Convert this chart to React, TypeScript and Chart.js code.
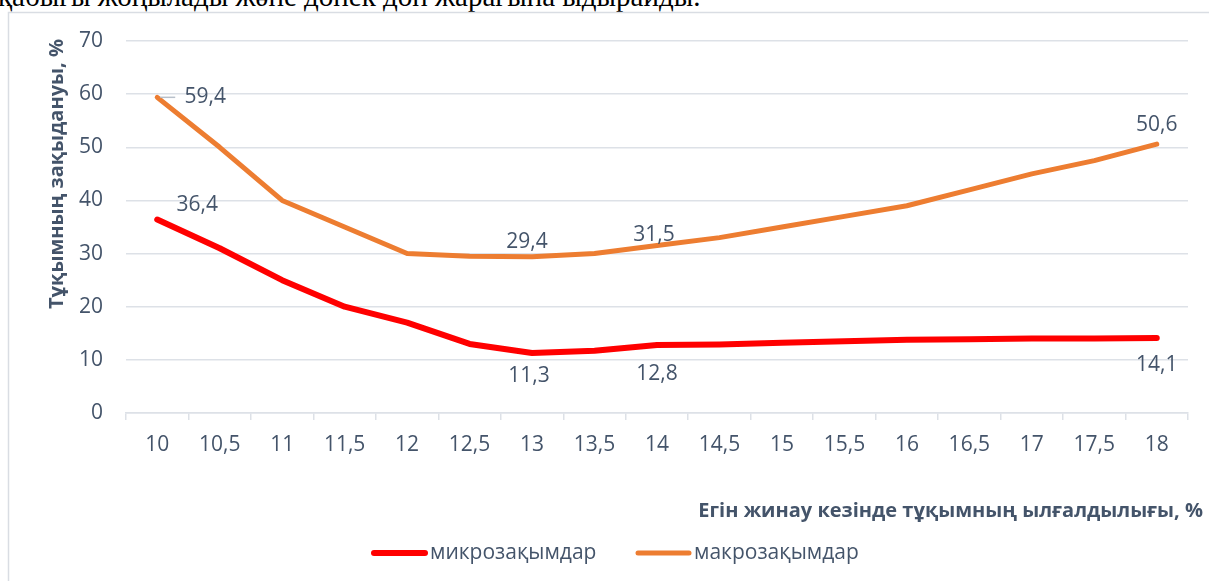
import React, { useEffect, useRef } from "react";
import { Chart, registerables } from "chart.js";

Chart.register(...registerables);

// ---- data ----
const CATEGORIES = ["10", "10,5", "11", "11,5", "12", "12,5", "13", "13,5", "14", "14,5", "15", "15,5", "16", "16,5", "17", "17,5", "18"];
const MICRO_LABEL = "микрозақымдар";
const MACRO_LABEL = "макрозақымдар";
const MICRO = [36.4, 31, 25, 20, 17, 13, 11.3, 11.7, 12.8, 12.9, 13.2, 13.5, 13.8, 13.9, 14.0, 14.0, 14.1];
const MACRO = [59.4, 50, 40, 35, 30, 29.5, 29.4, 30, 31.5, 33, 35, 37, 39, 42, 45, 47.5, 50.6];
const MICRO_LABELLED = [0, 6, 8, 16];
const MACRO_LABELLED = [0, 6, 8, 16];
const Y_MIN = 0;
const Y_MAX = 70;
const Y_STEP = 10;
const Y_TITLE = "Тұқымның зақыдануы, %";
const X_TITLE = "Егін жинау кезінде тұқымның ылғалдылығы, %";
const TOP_TEXT = "қабығы жоңылады және дөнек дөн жарағына ыдырайды.";

// ---- style ----
const RED = "#ff0000";
const ORANGE = "#ed7d31";
const TEXT = "#44546a";
const GRID = "#dde1e7";
const FONT = "'Open Sans', 'Noto Sans', sans-serif";

// label offsets relative to the point (layout, not data)
const PLACEMENT: Record<string, Record<number, { dx: number; dy: number; leader?: boolean }>> = {
  macro: { 0: { dx: 48, dy: 0, leader: true }, 6: { dx: -5, dy: -15 }, 8: { dx: -3, dy: -11 }, 16: { dx: 0, dy: -19 } },
  micro: { 0: { dx: 40, dy: -15 }, 6: { dx: -3, dy: 23 }, 8: { dx: 0, dy: 29 }, 16: { dx: 0, dy: 27 } },
};

const fmt = (v: number) => String(v).replace(".", ",");

const decorPlugin = {
  id: "decor",
  beforeDraw(chart: any) {
    const ctx = chart.ctx;
    ctx.save();
    ctx.strokeStyle = "#d9dde3";
    ctx.lineWidth = 1.5;
    ctx.strokeRect(8.5, 12.5, 1400, 800);
    ctx.restore();
  },
  afterDatasetsDraw(chart: any) {
    const ctx = chart.ctx;
    ctx.save();
    ctx.font = `21px ${FONT}`;
    ctx.fillStyle = TEXT;
    ctx.textAlign = "center";
    ctx.textBaseline = "middle";
    const sets: [number, number[], string][] = [
      [0, MICRO_LABELLED, "micro"],
      [1, MACRO_LABELLED, "macro"],
    ];
    for (const [di, idxs, key] of sets) {
      const meta = chart.getDatasetMeta(di);
      const values = chart.data.datasets[di].data as number[];
      for (const i of idxs) {
        const pt = meta.data[i];
        const p = PLACEMENT[key][i] || { dx: 0, dy: -15 };
        const x = pt.x + p.dx;
        const y = pt.y + p.dy;
        if (p.leader) {
          ctx.save();
          ctx.strokeStyle = "#b8c0ca";
          ctx.lineWidth = 1.5;
          ctx.beginPath();
          ctx.moveTo(pt.x + 3, pt.y);
          ctx.lineTo(pt.x + 18, pt.y);
          ctx.stroke();
          ctx.restore();
        }
        ctx.fillText(fmt(values[i]), x, y);
      }
    }
    ctx.restore();
  },
  afterDraw(chart: any) {
    const ctx = chart.ctx;
    const area = chart.chartArea;
    ctx.save();
    ctx.fillStyle = TEXT;
    // y title
    ctx.font = `bold 20px ${FONT}`;
    ctx.textAlign = "center";
    ctx.textBaseline = "middle";
    ctx.translate(57, 174);
    ctx.rotate(-Math.PI / 2);
    ctx.fillText(Y_TITLE, 0, 0);
    ctx.setTransform(1, 0, 0, 1, 0, 0);
    // x title
    ctx.font = `bold 20px ${FONT}`;
    ctx.textAlign = "right";
    ctx.fillText(X_TITLE, 1203, area.bottom + 98);
    // legend
    const ly = area.bottom + 140;
    ctx.font = `21px ${FONT}`;
    ctx.textAlign = "left";
    const items = chart.data.datasets.map((d: any) => ({ label: d.label, color: d.borderColor, w: d.borderWidth }));
    const starts = [371, 635];
    items.forEach((it: any, k: number) => {
      const x0 = starts[k];
      ctx.strokeStyle = it.color;
      ctx.lineWidth = it.w;
      ctx.lineCap = "round";
      ctx.beginPath();
      ctx.moveTo(x0 + 3, ly);
      ctx.lineTo(x0 + 54, ly);
      ctx.stroke();
      ctx.fillText(it.label, x0 + 59, ly);
    });
    ctx.restore();
  },
};

export default function App() {
  const ref = useRef<HTMLCanvasElement>(null);
  useEffect(() => {
    if (!ref.current) return;
    const chart = new Chart(ref.current, {
      type: "line",
      data: {
        labels: CATEGORIES,
        datasets: [
          {
            label: MICRO_LABEL,
            data: MICRO,
            borderColor: RED,
            backgroundColor: RED,
            borderWidth: 6,
            pointRadius: 0,
            tension: 0,
            borderCapStyle: "round",
            borderJoinStyle: "round",
          },
          {
            label: MACRO_LABEL,
            data: MACRO,
            borderColor: ORANGE,
            backgroundColor: ORANGE,
            borderWidth: 5,
            pointRadius: 0,
            tension: 0,
            borderCapStyle: "round",
            borderJoinStyle: "round",
          },
        ],
      },
      options: {
        animation: false,
        responsive: false,
        maintainAspectRatio: false,
        layout: { padding: { left: 0, top: 41, right: 21, bottom: 0 } },
        plugins: { legend: { display: false }, tooltip: { enabled: false } },
        scales: {
          x: {
            offset: true,
            grid: { display: true, drawOnChartArea: false, drawTicks: true, tickLength: 7, color: GRID, lineWidth: 1.5, offset: true },
            border: { display: true, color: GRID, width: 1.5 },
            ticks: { color: TEXT, font: { family: FONT, size: 21 }, padding: 12, maxRotation: 0, autoSkip: false },
            afterFit: (s: any) => {
              s.height = 168;
            },
          },
          y: {
            min: Y_MIN,
            max: Y_MAX,
            ticks: { stepSize: Y_STEP, color: TEXT, font: { family: FONT, size: 21 }, padding: 23 },
            grid: { color: GRID, lineWidth: 1.5, drawTicks: false },
            border: { display: false },
            afterFit: (s: any) => {
              s.width = 126;
            },
          },
        },
      },
      plugins: [decorPlugin],
    });
    return () => chart.destroy();
  }, []);
  return (
    <div style={{ position: "fixed", left: 0, top: 0, width: 1209, height: 581, background: "#fff", overflow: "hidden" }}>
      <div
        style={{
          position: "absolute",
          left: -2,
          top: -18,
          fontFamily: "'Liberation Serif', serif",
          fontSize: 29,
          lineHeight: "28px",
          whiteSpace: "nowrap",
          color: "#000",
        }}
      >
        {TOP_TEXT}
      </div>
      <canvas ref={ref} width={1209} height={581} style={{ position: "absolute", left: 0, top: 0, width: 1209, height: 581 }} />
    </div>
  );
}
